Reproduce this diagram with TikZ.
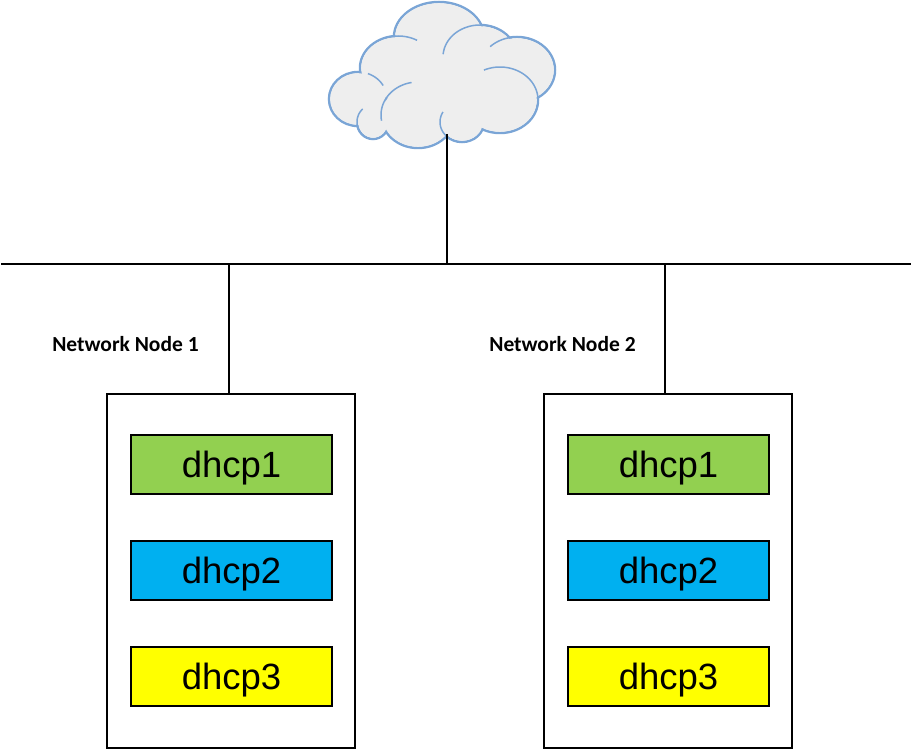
\documentclass[tikz,border=0pt]{standalone}
\usepackage{xcolor}
\usepackage{fontspec}
\setmainfont{Liberation Sans}
\newfontfamily\labelfont{Carlito}
\usetikzlibrary{positioning}
\definecolor{cloudline}{RGB}{122,165,214}
\definecolor{cloudfill}{RGB}{238,238,238}
\definecolor{dhcpgreen}{RGB}{146,208,80}
\definecolor{dhcpblue}{RGB}{0,176,240}
\definecolor{dhcpyellow}{RGB}{255,255,0}

\begin{document}
\begin{tikzpicture}[x=1pt, y=-1pt,
  every node/.style={inner sep=0pt},
  wire/.style={draw=black, line width=2pt},
  hostbox/.style={draw=black, line width=1.6pt, minimum width=248pt, minimum height=354pt},
  dhcpbox/.style={draw=black, line width=1.6pt, minimum width=201pt, minimum height=59pt,
                  text height=25pt, text depth=0pt, font=\fontsize{36.5}{36.5}\selectfont},
  hostlabel/.style={font=\labelfont\bfseries\fontsize{21.5}{21.5}\selectfont},
  crease/.style={draw=cloudline, line width=1.5pt}]
\useasboundingbox (0,0) rectangle (912,751);
\foreach \cx/\cy/\rx/\ry in {439/37/45/35, 398/68/38/32, 358/99/29/27, 373/122/16/17,
    418/115/37/33, 462/122/22/20, 500/100/38/33, 517/70/38/33, 480/57/37/32}{
  \draw[cloudline, line width=2.5pt] (\cx,\cy) ellipse[x radius=\rx, y radius=\ry];
}
\foreach \cx/\cy/\rx/\ry in {439/37/45/35, 398/68/38/32, 358/99/29/27, 373/122/16/17,
    418/115/37/33, 462/122/22/20, 500/100/38/33, 517/70/38/33, 480/57/37/32, 450/85/35/30}{
  \fill[cloudfill] (\cx,\cy) ellipse[x radius=\rx-1.2, y radius=\ry-1.2];
}
\foreach \cx/\cy/\rx/\ry/\from/\to in {398/68/38/32/-110/-60, 358/99/29/27/-70/-30,
    373/122/16/17/100/230, 418/115/37/33/170/260, 462/122/22/20/90/210,
    500/100/38/33/-115/20, 480/57/37/32/185/300, 517/70/38/33/-135/-60}{
  \draw[crease] plot[domain=\from:\to, samples=30, smooth] ({\cx+\rx*cos(\x)},{\cy+\ry*sin(\x)});
}
\coordinate (cloudbase) at (447,134);
\coordinate (busleft) at (1,264);
\coordinate (busright) at (911,264);
\coordinate (tapcloud) at (447,264);
\coordinate (tapone) at (229,264);
\coordinate (taptwo) at (665,264);
\node[hostbox] (hostone) at (231,571) {};
\node[hostbox] (hosttwo) at (668,571) {};
\node[dhcpbox, fill=dhcpgreen] (oneA) at (231.5,464.5) {dhcp1};
\node[dhcpbox, fill=dhcpblue, below=45.4pt of oneA] (oneB) {dhcp2};
\node[dhcpbox, fill=dhcpyellow, below=45.4pt of oneB] (oneC) {dhcp3};
\node[dhcpbox, fill=dhcpgreen] (twoA) at (668.5,464.5) {dhcp1};
\node[dhcpbox, fill=dhcpblue, below=45.4pt of twoA] (twoB) {dhcp2};
\node[dhcpbox, fill=dhcpyellow, below=45.4pt of twoB] (twoC) {dhcp3};
\node[hostlabel] (labelone) at (125.5,344) {Network Node 1};
\node[hostlabel] (labeltwo) at (562.5,344) {Network Node 2};
\draw[wire] (busleft) -- (busright);
\draw[wire] (cloudbase) -- (tapcloud);
\draw[wire] (tapone) -- (tapone |- hostone.north);
\draw[wire] (taptwo) -- (taptwo |- hosttwo.north);
\end{tikzpicture}
\end{document}
